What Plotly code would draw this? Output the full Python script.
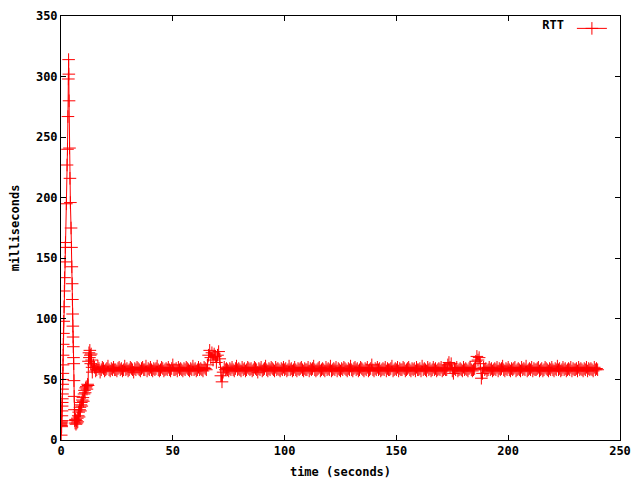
import numpy as np
import plotly.graph_objects as go

# start-up phase (seconds, ms)
start_t = [0.0, 0.05, 0.1, 0.15, 0.2, 0.25, 0.3, 0.35, 0.4, 0.45,
           0.5, 0.55, 0.6, 0.65, 0.7, 0.75, 0.8, 0.85, 0.9, 0.95,
           1.0, 1.1, 1.2, 1.35, 1.5, 1.6, 1.8, 1.9, 2.0, 2.4,
           2.7, 2.9, 3.1, 3.3, 3.4, 3.5, 3.6, 3.8, 4.0, 4.2,
           4.5, 4.7, 4.85, 5.0, 5.1, 5.2, 5.3, 5.4, 5.5, 5.6,
           5.7, 5.8, 5.9, 6.0, 6.1, 6.3, 6.5, 6.7, 6.9, 7.1,
           7.3, 7.5, 7.7, 7.9, 8.1, 8.3, 8.5, 8.7, 8.9, 9.1,
           9.3, 9.5, 9.8, 10.0, 10.3, 10.5, 10.8, 11.0, 11.3, 11.6,
           11.9, 12.1, 12.3, 12.5, 12.7, 12.9, 13.1, 13.3, 13.5, 13.7,
           13.9, 14.0]
start_rtt = [14, 13, 4, 14, 12, 15, 11, 16, 20, 24,
             28, 31, 34, 38, 42, 46, 50, 55, 62, 70,
             79, 88, 98, 110, 123, 134, 147, 159, 163, 195,
             227, 240, 267, 298, 314, 302, 280, 241, 216, 196,
             175, 159, 143, 129, 116, 104, 94, 85, 77, 68,
             63, 49, 36, 25, 16, 14, 17, 13, 16, 14,
             18, 15, 20, 23, 19, 25, 27, 24, 29, 31,
             28, 33, 35, 32, 38, 41, 39, 43, 44, 42,
             46, 45, 65, 72, 68, 74, 70, 63, 71, 66,
             60, 56]

# steady phase, one reading every half second from 14.5 s
steady_t0 = 14.5
steady_dt = 0.5
steady_rtt = [
    62, 60, 57, 58, 61, 59, 56, 58, 60, 59, 57, 58, 59, 61, 58, 57, 59, 58, 60, 58,
    58, 57, 59, 60, 58, 59, 57, 58, 61, 58, 59, 57, 58, 60, 59, 58, 56, 59, 58, 60,
    59, 58, 57, 59, 60, 58, 58, 61, 57, 59, 58, 60, 58, 57, 59, 58, 59, 61, 58, 57,
    58, 60, 59, 57, 58, 59, 58, 60, 58, 57, 59, 62, 58, 58, 59, 57, 60, 58, 59, 58,
    57, 59, 58, 60, 59, 58, 57, 59, 58, 61, 58, 59, 57, 58, 60, 58, 59, 58, 57, 60,
    59, 58, 62, 70, 74, 68, 72, 66, 71, 69, 64, 70, 73, 67, 53, 48, 56, 60, 58, 59,
    58, 57, 59, 58, 60, 58, 57, 59, 61, 58, 59, 58, 57, 60, 58, 59, 57, 58, 60, 59,
    58, 59, 57, 58, 60, 59, 58, 56, 59, 58, 60, 57, 58, 59, 61, 58, 57, 59, 58, 60,
    59, 58, 57, 60, 58, 59, 58, 57, 59, 58, 60, 58, 59, 57, 58, 61, 58, 59, 57, 58,
    60, 58, 57, 59, 58, 59, 60, 58, 57, 59, 58, 58, 60, 57, 59, 58, 59, 61, 58, 57,
    58, 59, 60, 57, 58, 59, 58, 57, 60, 58, 59, 58, 61, 57, 58, 59, 58, 60, 57, 59,
    58, 57, 59, 58, 60, 59, 58, 57, 59, 58, 61, 58, 57, 59, 60, 58, 59, 57, 58, 60,
    59, 58, 57, 59, 58, 60, 57, 58, 59, 62, 58, 57, 59, 58, 60, 58, 59, 57, 58, 59,
    58, 60, 57, 59, 58, 58, 59, 61, 57, 58, 59, 58, 60, 57, 59, 58, 58, 60, 59, 57,
    58, 59, 60, 58, 57, 59, 58, 59, 57, 60, 58, 58, 59, 57, 61, 58, 59, 58, 57, 60,
    58, 59, 57, 58, 60, 58, 59, 57, 58, 59, 58, 60, 57, 58, 59, 58, 58, 62, 64, 60,
    63, 57, 55, 59, 58, 60, 57, 58, 59, 58, 57, 60, 58, 59, 58, 57, 59, 60, 58, 57,
    58, 59, 65, 69, 66, 68, 63, 51, 55, 60, 58, 59, 57, 58, 60, 58, 59, 57, 58, 59,
    58, 60, 57, 59, 58, 59, 61, 58, 57, 59, 58, 60, 58, 57, 59, 58, 59, 60, 57, 58,
    59, 58, 57, 60, 58, 59, 58, 61, 57, 58, 59, 58, 60, 57, 59, 58, 58, 59, 60, 57,
    58, 59, 57, 58, 60, 59, 58, 57, 59, 58, 60, 58, 57, 59, 58, 61, 58, 59, 57, 58,
    60, 58, 59, 57, 58, 59, 58, 60, 57, 59, 58, 58, 59, 57, 60, 58, 59, 58, 57, 59,
    58, 60, 57, 59, 58, 59, 58, 57, 60, 58, 59, 58,
]

x_ticks = [0, 50, 100, 150, 200, 250]
y_ticks = [0, 50, 100, 150, 200, 250, 300, 350]

steady_t = steady_t0 + steady_dt * np.arange(len(steady_rtt))
t = np.concatenate([start_t, steady_t])
rtt = np.concatenate([start_rtt, steady_rtt])

FONT = dict(family="DejaVu Sans Mono", size=12, color="black", weight="bold")

fig = go.Figure()
fig.add_trace(go.Scatter(
    x=t, y=rtt, mode="lines+markers", name="",
    line=dict(color="#ff0000", width=1),
    marker=dict(symbol="cross-thin", size=9, line=dict(color="#ff0000", width=1)),
))

axis = dict(
    showline=True, mirror="allticks", linecolor="black", linewidth=1,
    ticks="inside", ticklen=5, tickcolor="black", showgrid=False,
    zeroline=False, tickfont=FONT, automargin=False,
    ticklabeloverflow="allow",
)
fig.update_xaxes(range=[0, 250], tickvals=x_ticks,
                 title=dict(text="time (seconds)", font=FONT, standoff=10), **axis)
fig.update_yaxes(range=[0, 350], tickvals=y_ticks,
                 title=dict(text="milliseconds", font=FONT, standoff=14), **axis)

# page body has an 8px margin, so the figure is a bit smaller than the window
fig.update_layout(
    width=632, height=472,
    margin=dict(l=53, r=20, t=6, b=40),
    plot_bgcolor="white", paper_bgcolor="white",
    font=FONT,
    showlegend=True,
    legend=dict(x=0.995, y=1.005, xanchor="right", yanchor="top",
                bgcolor="rgba(0,0,0,0)", font=FONT,
                title=dict(text="RTT", side="left", font=FONT)),
)

fig.write_html("out.html")
